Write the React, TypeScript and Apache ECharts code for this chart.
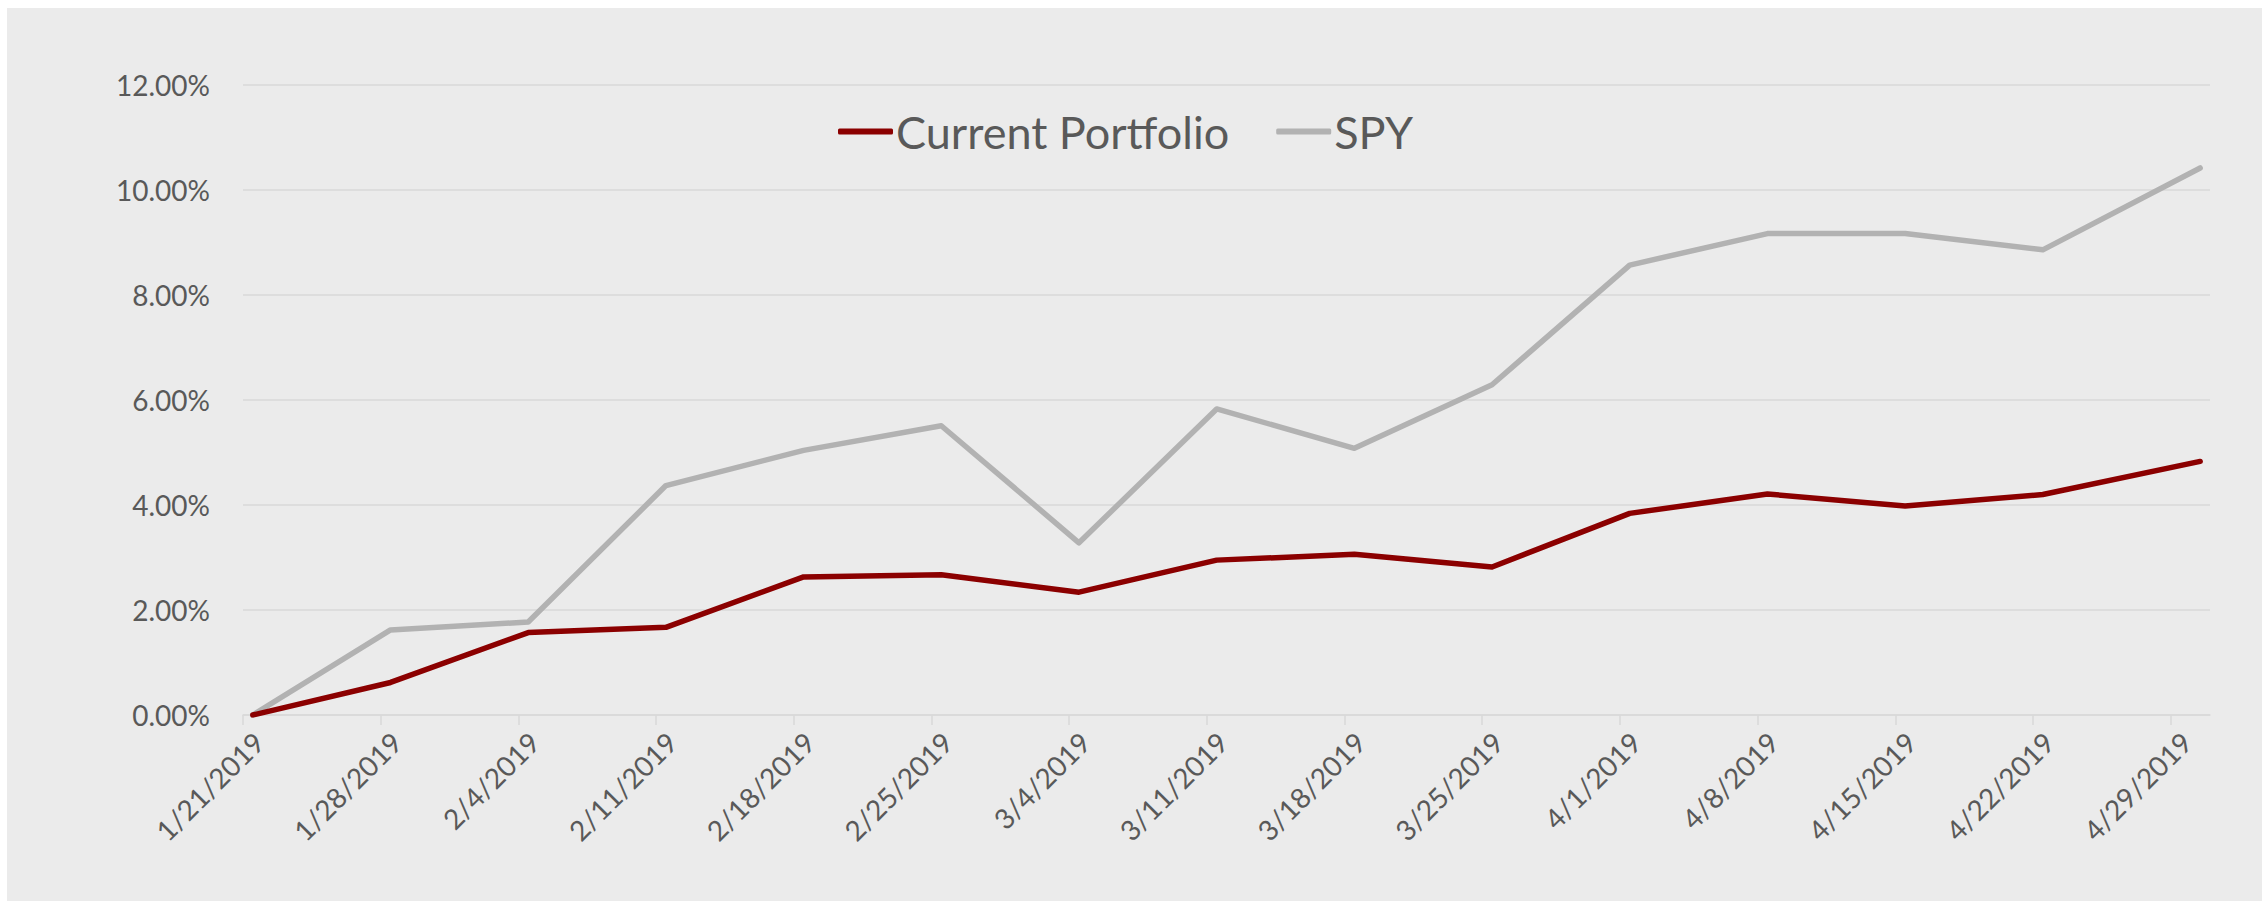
import React, { useEffect, useRef } from "react";
import * as echarts from "echarts";

const pointDates = [
  "1/21/2019", "1/28/2019", "2/4/2019", "2/11/2019", "2/18/2019",
  "2/25/2019", "3/4/2019", "3/11/2019", "3/18/2019", "3/25/2019",
  "4/1/2019", "4/8/2019", "4/15/2019", "4/22/2019", "4/30/2019",
];
const tickLabels = [
  "1/21/2019", "1/28/2019", "2/4/2019", "2/11/2019", "2/18/2019",
  "2/25/2019", "3/4/2019", "3/11/2019", "3/18/2019", "3/25/2019",
  "4/1/2019", "4/8/2019", "4/15/2019", "4/22/2019", "4/29/2019",
];
const currentPortfolio = [
  0, 0.62, 1.57, 1.67, 2.63, 2.67, 2.34, 2.95, 3.06, 2.82, 3.84, 4.21, 3.98, 4.2, 4.83,
];
const spy = [
  0, 1.62, 1.77, 4.37, 5.04, 5.51, 3.28, 5.83, 5.08, 6.29, 8.57, 9.17, 9.17, 8.86, 10.42,
];
const yTicks = { min: 0, max: 12, interval: 2 };

const FONT = "Lato, 'Noto Sans', sans-serif";
const TEXT = "#595959";
const GRID = "#d9d9d9";

function dayOffset(s: string): number {
  const [m, d, y] = s.split("/").map(Number);
  const base = Date.UTC(2019, 0, 21);
  return Math.round((Date.UTC(y, m - 1, d) - base) / 86400000);
}

export default function App() {
  const ref = useRef<HTMLDivElement>(null);
  useEffect(() => {
    if (!ref.current) return;
    const chart = echarts.init(ref.current, undefined, { renderer: "svg" });
    const xs = pointDates.map(dayOffset);
    const labelDays = tickLabels.map(dayOffset);
    const labelPos = labelDays.map((v) => v + 0.3);
    const tickPos = labelDays.map((v) => v - 0.5);
    const lastDay = xs[xs.length - 1];
    chart.setOption({
      animation: false,
      backgroundColor: "#ebebeb",
      textStyle: { fontFamily: FONT },
      legend: {
        left: 826,
        top: 96,
        itemWidth: 55,
        itemHeight: 6,
        itemGap: 47,
        icon: "roundRect",
        textStyle: { fontFamily: FONT, fontSize: 45, color: TEXT, padding: [0, 0, 0, -2] },
        data: ["Current Portfolio", "SPY"],
      },
      grid: { left: 236, top: 77, right: 52, bottom: 186, containLabel: false },
      xAxis: {
        type: "value",
        min: -0.5,
        max: lastDay + 0.5,
        splitLine: { show: false },
        axisLine: { show: true, lineStyle: { color: GRID, width: 1.5 } },
        axisTick: {
          show: true,
          length: 10,
          customValues: tickPos,
          lineStyle: { color: GRID, width: 1.5 },
        },
        axisLabel: {
          customValues: labelPos,
          rotate: 45,
          margin: 22,
          fontSize: 28,
          fontFamily: FONT,
          color: TEXT,
          formatter: (v: number) => {
            const i = labelDays.indexOf(Math.round(v - 0.3));
            return i >= 0 ? tickLabels[i] : "";
          },
        },
      },
      yAxis: {
        type: "value",
        min: yTicks.min,
        max: yTicks.max,
        interval: yTicks.interval,
        axisLine: { show: false },
        axisTick: { show: false },
        splitLine: { lineStyle: { color: GRID, width: 1.5 } },
        axisLabel: {
          margin: 33,
          fontSize: 28,
          fontFamily: FONT,
          color: TEXT,
          formatter: (v: number) => v.toFixed(2) + "%",
        },
      },
      series: [
        {
          name: "Current Portfolio",
          type: "line",
          showSymbol: false,
          symbol: "none",
          color: "#8b0000",
          lineStyle: { width: 5.5, color: "#8b0000", cap: "round", join: "round" },
          data: xs.map((x, i) => [x, currentPortfolio[i]]),
          z: 3,
        },
        {
          name: "SPY",
          type: "line",
          showSymbol: false,
          symbol: "none",
          color: "#b2b2b2",
          lineStyle: { width: 5.5, color: "#b2b2b2", cap: "round", join: "round" },
          data: xs.map((x, i) => [x, spy[i]]),
          z: 2,
        },
      ],
    });
    return () => chart.dispose();
  }, []);
  return (
    <div
      ref={ref}
      style={{ position: "absolute", left: 7, top: 8, width: 2255, height: 893 }}
    />
  );
}
